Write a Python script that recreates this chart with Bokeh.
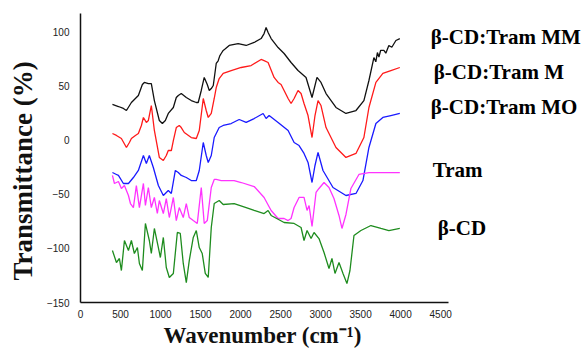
import math
from bokeh.plotting import figure
from bokeh.models import Label, Range1d, FixedTicker, Title
from bokeh.embed import file_html
from bokeh.resources import INLINE

# ---- data (wavenumber cm-1, transmittance %, offset spectra) ----
wn_mm = [399, 474, 536, 574, 636, 723, 773, 798, 848, 885, 923, 985, 1023, 1060, 1097, 1160, 1197, 1222,
         1259, 1322, 1384, 1447, 1471, 1509, 1546, 1584, 1609, 1634, 1659, 1696, 1720, 1740, 1758, 1783,
         1810, 1858, 1970, 2070, 2170, 2257, 2294, 2319, 2344, 2382, 2469, 2544, 2631, 2718, 2818, 2893,
         2955, 3005, 3068, 3192, 3317, 3442, 3541, 3604, 3666, 3690, 3710, 3729, 3750, 3791, 3815, 3853,
         3890, 3941, 3990]
t_mm = [32.7, 30.8, 29.0, 27.1, 34.5, 41.0, 51.1, 53.0, 52.0, 52.0, 36.3, 17.9, 15.1, 17.9, 24.4, 29.9,
        39.1, 41.0, 42.8, 39.1, 36.3, 34.5, 34.5, 45.6, 57.6, 51.1, 45.6, 47.4, 50.2, 70.5, 73.0, 77.5,
        79.7, 82.5, 84.0, 87.1, 88.9, 87.1, 89.9, 93.5, 98.1, 103.7, 99.1, 93.5, 85.2, 79.7, 71.4, 64.0,
        57.6, 39.1, 57.6, 53.0, 42.8, 29.9, 24.4, 27.1, 36.3, 54.8, 76.0, 72.0, 80.6, 76.5, 82.5, 82.5,
        80.0, 87.1, 85.5, 91.7, 93.5]

wn_m = [399, 449, 511, 574, 611, 636, 686, 723, 761, 786, 823, 848, 885, 923, 985, 1035, 1072, 1097, 1135,
        1160, 1197, 1234, 1259, 1297, 1384, 1447, 1484, 1534, 1571, 1596, 1634, 1671, 1696, 1733, 1783,
        1883, 2008, 2132, 2257, 2294, 2344, 2419, 2469, 2506, 2544, 2594, 2631, 2669, 2718, 2756, 2793,
        2843, 2893, 2930, 2968, 3005, 3068, 3192, 3317, 3442, 3541, 3604, 3691, 3778, 3878, 3990]
t_m = [5.9, 4.1, 1.3, -7.0, -2.4, 1.3, 4.1, 5.9, 13.3, 20.7, 16.1, 17.9, 31.7, 8.7, -16.2, -19.0, -14.4,
       -9.8, -9.8, -0.6, 11.4, 13.3, 11.4, 6.8, 2.2, 1.3, 8.7, 38.2, 27.1, 20.7, 24.4, 38.2, 48.3, 56.6,
       61.3, 64.0, 66.8, 68.6, 74.2, 73.2, 71.4, 57.6, 53.0, 51.1, 45.6, 38.2, 33.6, 38.2, 45.6, 42.8,
       33.6, 22.5, 2.2, 22.5, 36.3, 31.7, 11.4, -7.0, -16.2, -12.5, 2.2, 29.9, 53.0, 61.3, 64.0, 66.8]

wn_mo = [399, 449, 474, 536, 599, 661, 723, 786, 823, 860, 910, 973, 1035, 1072, 1097, 1135, 1185, 1222,
         1259, 1322, 1384, 1447, 1484, 1534, 1571, 1596, 1634, 1671, 1733, 1783, 1883, 1983, 2070, 2170,
         2282, 2319, 2357, 2469, 2594, 2669, 2731, 2793, 2843, 2893, 2930, 2968, 3030, 3155, 3317, 3442,
         3529, 3604, 3691, 3778, 3878, 3990]
t_mo = [-30.1, -31.9, -32.8, -40.2, -40.2, -34.7, -28.2, -14.4, -21.8, -14.4, -25.5, -42.1, -51.3, -48.5,
        -46.7, -49.4, -28.2, -30.1, -32.8, -34.7, -37.5, -37.5, -28.2, -2.4, -14.4, -20.8, -14.4, 2.2,
        11.4, 13.3, 15.1, 18.8, 16.1, 19.7, 24.4, 19.7, 22.5, 16.1, 8.7, -2.4, -5.2, -12.5, -20.8, -39.3,
        -23.6, -11.6, -28.2, -43.9, -51.3, -49.4, -37.5, -7.0, 15.1, 20.7, 22.5, 24.4]

wn_tram = [399, 424, 474, 511, 549, 599, 624, 661, 698, 736, 786, 811, 848, 885, 923, 960, 985, 1035, 1072,
           1110, 1160, 1197, 1234, 1284, 1322, 1359, 1409, 1459, 1509, 1546, 1584, 1634, 1671, 1696,
           1758, 1920, 2008, 2170, 2294, 2382, 2469, 2544, 2594, 2631, 2669, 2731, 2793, 2831,
           2856, 2893, 2943, 2980, 3043, 3105, 3167, 3230, 3267, 3317, 3379, 3479, 3604, 3778, 3990]
t_tram = [-32.8, -40.2, -38.4, -44.8, -42.1, -51.3, -58.7, -62.4, -42.1, -62.4, -40.2, -60.5, -43.9, -62.4,
          -53.1, -67.9, -55.9, -67.9, -54.1, -71.6, -53.1, -74.4, -62.4, -71.6, -58.7, -71.6, -74.4, -77.1,
          -43.9, -77.1, -74.4, -43.9, -36.5, -36.5,
          -37.5, -37.5, -39.3, -43.0, -53.1, -65.1, -72.5, -72.5, -74.4, -72.5, -62.4, -53.1, -53.1, -65.1,
          -60.5, -79.9, -48.5, -44.8, -39.3, -43.9, -54.1, -69.7, -81.7, -68.8, -44.8, -31.9, -30.1, -30.1,
          -30.1]

wn_cd = [399, 449, 486, 511, 549, 599, 636, 673, 711, 736, 773, 811, 860, 885, 923, 973, 998, 1035, 1072,
         1110, 1160, 1210, 1247, 1284, 1322, 1359, 1409, 1447, 1484, 1521, 1559, 1596, 1634, 1671, 1733,
         1783, 1920, 2070, 2170, 2294, 2344, 2382, 2544, 2669, 2756, 2793, 2831, 2881, 2918, 2980, 3043,
         3105, 3142, 3180, 3230, 3280, 3329, 3367, 3417, 3504, 3629, 3754, 3853, 3990]
t_cd = [-102.0, -113.1, -109.4, -120.5, -92.8, -102.0, -92.8, -104.8, -99.3, -114.0, -120.5, -77.1, -92.8,
        -104.8, -81.7, -99.3, -108.5, -90.0, -117.7, -126.9, -123.2, -85.4, -86.3, -114.0, -131.6, -111.3,
        -90.0, -83.6, -99.3, -104.8, -123.2, -126.9, -80.8, -58.7, -55.9,
        -59.6, -58.7, -62.4, -65.1, -67.9, -65.1, -69.7, -76.2, -77.1, -80.8, -92.8, -83.6, -91.0, -85.4,
        -91.0, -103.9, -118.6, -109.4, -123.2, -113.1, -123.2, -132.5, -120.5, -88.2, -83.6, -79.0, -81.7,
        -83.6, -81.7]

series_names = ["β-CD:Tram MM", "β-CD:Tram M", "β-CD:Tram MO", "Tram", "β-CD"]
x_ticks = [0, 500, 1000, 1500, 2000, 2500, 3000, 3500, 4000, 4500]
y_ticks = [-150, -100, -50, 0, 50, 100]
x_title = "Wavenumber  (cm\u207b\u00b9)"
y_title = "Transmittance (%)"

# ---- figure ----
p = figure(width=587, height=350, output_backend="svg", toolbar_location=None,
           x_range=Range1d(0, 6335), y_range=Range1d(-150, 128.6),
           min_border_left=79, min_border_right=0, min_border_top=0, min_border_bottom=48)
p.outline_line_color = None
p.grid.visible = False
p.background_fill_color = "white"
p.border_fill_color = "white"

for ax in (p.xaxis, p.yaxis):
    ax.axis_line_color = "#111111"
    ax.axis_line_width = 1.5
    ax.major_tick_line_color = None
    ax.minor_tick_line_color = None
    ax.major_label_text_font = "Liberation Sans"
    ax.major_label_text_font_size = "10px"
    ax.major_label_text_color = "#222222"

p.xaxis.bounds = (0, 4600)
p.yaxis.bounds = (-150, 117)
p.xaxis.ticker = FixedTicker(ticks=x_ticks)
p.yaxis.ticker = FixedTicker(ticks=y_ticks)
p.xaxis.major_label_standoff = 1
p.yaxis.major_label_standoff = 5

p.add_layout(Title(text=x_title, align="left", offset=83, standoff=1,
                   text_font="Liberation Serif", text_font_style="bold",
                   text_font_size="23px", text_color="#111111"), "below")
p.add_layout(Title(text=y_title, align="left", offset=22, standoff=11,
                   text_font="Liberation Serif", text_font_style="bold",
                   text_font_size="27px", text_color="#111111"), "left")

colors = ["#111111", "#ff1a1a", "#1a1aff", "#ff33ff", "#1e8c1e"]
data = [(wn_mm, t_mm), (wn_m, t_m), (wn_mo, t_mo), (wn_tram, t_tram), (wn_cd, t_cd)]
for (xs, ys), c in zip(data, colors):
    p.line(xs, ys, line_color=c, line_width=1.3)

label_pos = [(4377, 94.5), (4414, 62.2), (4377, 29.9), (4402, -28.2), (4464, -81.7)]
for name, (lx, ly) in zip(series_names, label_pos):
    p.add_layout(Label(x=lx, y=ly, text=name, text_font="Liberation Serif", text_font_style="bold",
                       text_font_size="21px", text_color="black", text_baseline="middle",
                       text_align="left"))

open("out.html", "w").write(file_html(p, INLINE))
